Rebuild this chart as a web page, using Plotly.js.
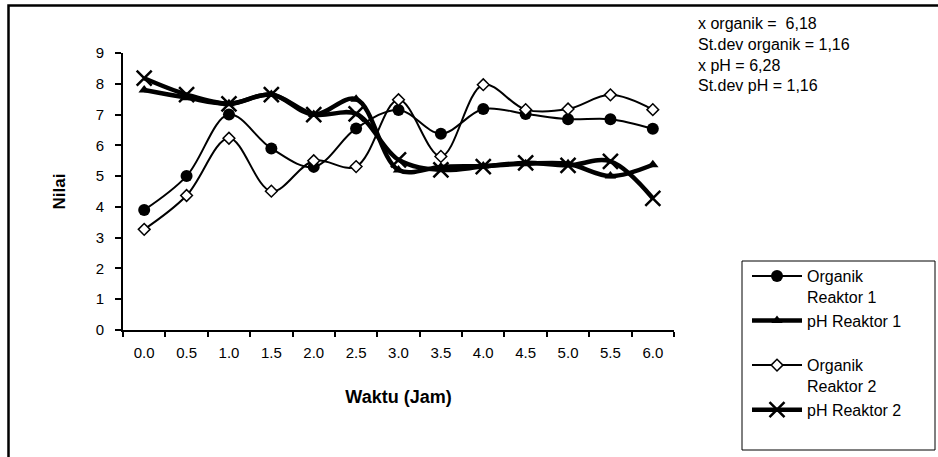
<!DOCTYPE html>
<html>
<head>
<meta charset="utf-8">
<script src="https://cdn.plot.ly/plotly-3.0.1.min.js"></script>
<style>html,body{margin:0;padding:0;background:#fff;}</style>
</head>
<body>
<div id="chart" style="width:938px;height:457px;"></div>
<script>
// ---- data ----
var waktu = ['0.0','0.5','1.0','1.5','2.0','2.5','3.0','3.5','4.0','4.5','5.0','5.5','6.0'];
var organikReaktor1 = [3.9, 5.0, 7.0, 5.9, 5.3, 6.55, 7.15, 6.38, 7.18, 7.02, 6.85, 6.85, 6.54];
var phReaktor1      = [7.8, 7.55, 7.35, 7.65, 7.0, 7.5, 5.2, 5.3, 5.33, 5.4, 5.4, 5.0, 5.37];
var organikReaktor2 = [3.27, 4.37, 6.23, 4.51, 5.5, 5.31, 7.48, 5.64, 7.97, 7.16, 7.18, 7.64, 7.16];
var phReaktor2      = [8.18, 7.65, 7.35, 7.65, 7.0, 7.02, 5.53, 5.2, 5.31, 5.43, 5.35, 5.48, 4.28];
var seriesNames = ['Organik<br>Reaktor 1', 'pH Reaktor 1<br>\u00a0', 'Organik<br>Reaktor 2', 'pH Reaktor 2'];
var yTicks = [0,1,2,3,4,5,6,7,8,9];
var statLines = ['x organik = \u00a06,18', 'St.dev organik = 1,16', 'x pH = 6,28', 'St.dev pH = 1,16'];

var FONT = 'Liberation Sans, Arial, sans-serif';

var traces = [
  {x: waktu, y: organikReaktor1, name: seriesNames[0], type: 'scatter', mode: 'lines+markers',
   line: {color: '#000', width: 2, shape: 'spline', smoothing: 1},
   marker: {symbol: 'circle', size: 12, color: '#000'}},
  {x: waktu, y: phReaktor1, name: seriesNames[1], type: 'scatter', mode: 'lines+markers',
   line: {color: '#000', width: 4.5, shape: 'spline', smoothing: 1},
   marker: {symbol: 'triangle-up', size: 10, color: '#000'}},
  {x: waktu, y: organikReaktor2, name: seriesNames[2], type: 'scatter', mode: 'lines+markers',
   line: {color: '#000', width: 2, shape: 'spline', smoothing: 1},
   marker: {symbol: 'diamond', size: 9, color: '#fff', line: {color: '#000', width: 1.5}}},
  {x: waktu, y: phReaktor2, name: seriesNames[3], type: 'scatter', mode: 'lines+markers',
   line: {color: '#000', width: 4.5, shape: 'spline', smoothing: 1},
   marker: {symbol: 'x-thin', size: 15, color: '#000', line: {color: '#000', width: 2.5}}}
];

// plot area in pixels: x 123..674, y 53..330
function px(xp){ return (xp - 123) / 551; }
function py(yp){ return (330 - yp) / 277; }

var layout = {
  width: 938, height: 457,
  margin: {l: 123, r: 264, t: 53, b: 127},
  paper_bgcolor: '#fff', plot_bgcolor: '#fff',
  font: {family: FONT, color: '#000', size: 15},
  showlegend: true,
  legend: {
    x: px(747), y: py(259), xanchor: 'left', yanchor: 'top',
    bgcolor: 'rgba(0,0,0,0)', borderwidth: 0, valign: 'top',
    font: {family: FONT, size: 16, color: '#000'},
    itemwidth: 50, tracegroupgap: 0
  },
  xaxis: {
    type: 'category', categoryorder: 'array', categoryarray: waktu,
    range: [-0.5, 12.5],
    showgrid: false, zeroline: false,
    showline: true, linecolor: '#000', linewidth: 2,
    ticks: 'outside', tickson: 'boundaries', ticklen: 5, tickwidth: 2, tickcolor: '#000',
    ticklabelstandoff: 8,
    tickfont: {family: FONT, size: 15, color: '#000'},
    title: {text: 'Waktu (Jam)', standoff: 30, font: {family: FONT, size: 18, weight: 'bold', color: '#000'}},
    automargin: false, fixedrange: true
  },
  yaxis: {
    range: [0, 9], tickvals: yTicks, ticktext: yTicks.map(String),
    showgrid: false, zeroline: false,
    showline: true, linecolor: '#000', linewidth: 2,
    ticks: 'outside', ticklen: 6, tickwidth: 2, tickcolor: '#000',
    ticklabelstandoff: 8,
    tickfont: {family: FONT, size: 15, color: '#000'},
    title: {text: 'Nilai', standoff: 26, font: {family: FONT, size: 17, weight: 'bold', color: '#000'}},
    automargin: false, fixedrange: true
  },
  shapes: [
    {type: 'rect', xref: 'paper', yref: 'paper', x0: px(8.5), x1: px(950), y0: py(470), y1: py(5.5),
     line: {color: '#000', width: 2.5}, fillcolor: 'rgba(0,0,0,0)', layer: 'below'},
    {type: 'rect', xref: 'paper', yref: 'paper', x0: px(742), x1: px(935), y0: py(450), y1: py(261),
     line: {color: '#000', width: 1}, fillcolor: 'rgba(0,0,0,0)', layer: 'below'}
  ],
  annotations: [
    {xref: 'paper', yref: 'paper', x: px(696), y: py(13), xanchor: 'left', yanchor: 'top',
     align: 'left', showarrow: false, text: statLines.join('<br>'),
     font: {family: FONT, size: 16, color: '#000'}}
  ]
};

Plotly.newPlot('chart', traces, layout, {displayModeBar: false, staticPlot: true});
</script>
</body>
</html>
